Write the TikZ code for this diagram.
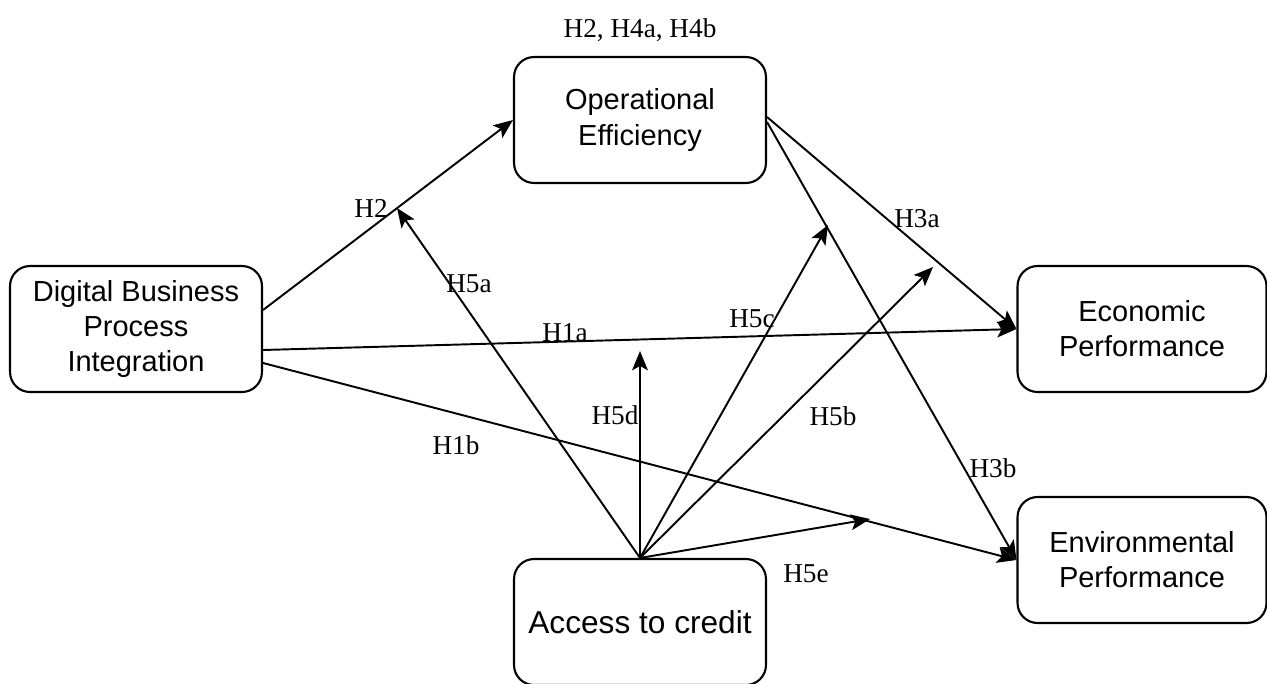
\documentclass[tikz,border=0pt]{standalone}
\usepackage{fontspec}
\setmainfont{Liberation Serif}
\setsansfont{Liberation Sans}
\usepackage{tikz}
\usetikzlibrary{arrows.meta}
\tikzset{
    varnode/.style = {align=center, draw=black, rounded corners=0.4cm, line width=1.2pt, minimum width=5.04cm, minimum height=2.52cm, inner sep=0pt, font=\sffamily\fontsize{16.5}{20}\selectfont},
    hyp/.style = {inner sep=0pt, anchor=base, font=\fontsize{15.5}{18}\selectfont},
    link/.style = {->, line width=1.1pt}
}

\begin{document}
\begin{tikzpicture}
    [x=0.02cm, y=-0.02cm,
    >={Stealth[length=11pt, width=9pt, inset=2.5pt]}]

    \useasboundingbox (0,0) rectangle (1267,683);

    % variables
    \node [varnode] (dbpi) at (136,329) {Digital Business\\Process\\Integration};
    \node [varnode] (oe) at (640,120) {Operational\\Efficiency};
    \node [varnode, minimum width=4.98cm] (ecp) at (1142,329) {Economic\\Performance};
    \node [varnode, minimum width=4.98cm] (env) at (1142,560) {Environmental\\Performance};
    \node [varnode, font=\sffamily\fontsize{18}{20}\selectfont] (acc) at (640,622) {Access to credit};

    % free ends of the moderating arrows
    \coordinate (h5a) at (397,208);
    \coordinate (h5c) at (828,225);
    \coordinate (h5b) at (933,267);
    \coordinate (h5d) at (640,351);
    \coordinate (h5e) at (870,519);

    % direct paths
    \draw [link] ([yshift=0.38cm]dbpi.east) -- (oe.west);
    \draw [link] ([yshift=-0.42cm]dbpi.east) -- (ecp.west);
    \draw [link] ([yshift=-0.68cm]dbpi.east) -- (env.west);
    \draw [link] ([yshift=0.06cm]oe.east) -- (ecp.west);
    \draw [link] ([yshift=-0.04cm]oe.east) -- (env.west);

    % moderation
    \draw [link] (acc.north) -- (h5a);
    \draw [link] (acc.north) -- (h5d);
    \draw [link] (acc.north) -- (h5c);
    \draw [link] (acc.north) -- (h5b);
    \draw [link] (acc.north) -- (h5e);

    % labels
    \node [hyp] (lmed) at (640,37) {H2, H4a, H4b};
    \node [hyp] (lh2) at (371,217) {H2};
    \node [hyp] (lh5a) at (469,292) {H5a};
    \node [hyp] (lh1a) at (565,341) {H1a};
    \node [hyp] (lh1b) at (456,454) {H1b};
    \node [hyp] (lh5c) at (752,327) {H5c};
    \node [hyp] (lh5d) at (615,424) {H5d};
    \node [hyp] (lh5b) at (833,425) {H5b};
    \node [hyp] (lh3a) at (917,227) {H3a};
    \node [hyp] (lh3b) at (993,477) {H3b};
    \node [hyp] (lh5e) at (806,582) {H5e};
\end{tikzpicture}
\end{document}
